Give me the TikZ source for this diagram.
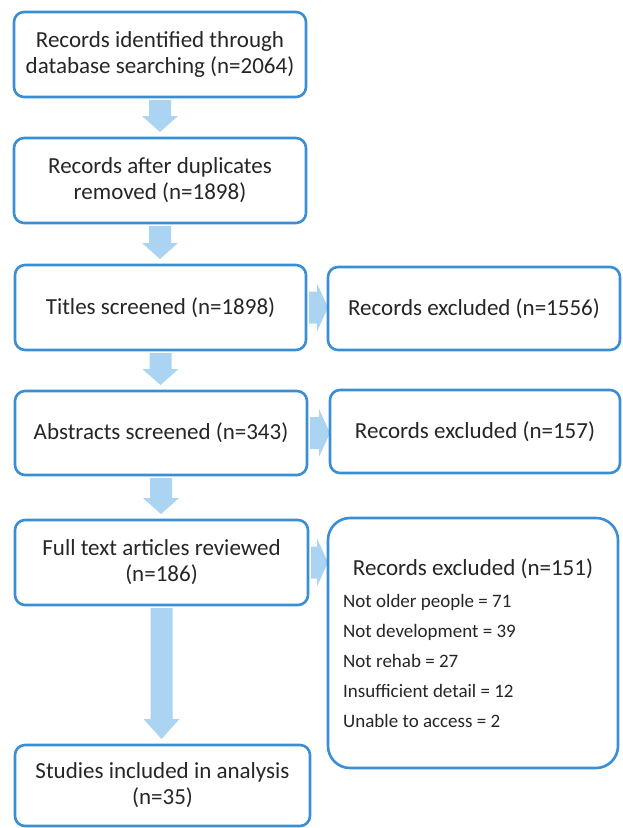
\documentclass[tikz,border=0pt]{standalone}
\usepackage{fontspec}
\setmainfont{Carlito}
\usetikzlibrary{calc,backgrounds}
\definecolor{bord}{RGB}{58,142,212}
\definecolor{arrc}{RGB}{170,212,242}
\definecolor{txt}{RGB}{38,38,38}
\newcommand{\blockdown}[4]{% from, to, name, head length (px)
  \coordinate (#3s) at ($(#1.south)+(0,3)$);
  \coordinate (#3t) at (#3s |- #2.north);
  \fill[blk] ($(#3s)+(-11,0)$) -- ($(#3s)+(11,0)$)
    -- ($(#3t)+(11,-6-#4)$) -- ($(#3t)+(18,-6-#4)$)
    -- ($(#3t)+(0,-6)$)
    -- ($(#3t)+(-18,-6-#4)$) -- ($(#3t)+(-11,-6-#4)$) -- cycle;
}
\newcommand{\blockright}[3]{% from, to, name
  \coordinate (#3s) at ($(#1.east)+(3,0)$);
  \coordinate (#3t) at (#3s -| #2.west);
  \fill[blk] ($(#3s)+(0,-16)$) -- ($(#3t)+(-11,-16)$)
    -- ($(#3t)+(-11,-24)$) -- (#3t) -- ($(#3t)+(-11,24)$)
    -- ($(#3t)+(-11,16)$) -- ($(#3s)+(0,16)$) -- cycle;
}
\begin{document}
\begin{tikzpicture}[x=1pt,y=-1pt,
  box/.style={draw=bord, line width=2.6pt, rounded corners=10pt, fill=white,
    inner sep=0pt, outer sep=0pt, align=center, text=txt,
    font=\fontsize{23}{26}\selectfont},
  bigbox/.style={box, rounded corners=22pt},
  blk/.style={fill=arrc},
  ttl/.style={anchor=base, inner sep=0pt, text=txt, font=\fontsize{23}{26}\selectfont},
  lst/.style={anchor=base west, inner sep=0pt, text=txt, font=\fontsize{19}{22}\selectfont}]
\useasboundingbox (0,0) rectangle (622,828);

\node[box, minimum width=292pt, minimum height=85pt] (b1) at (160,54.5)
  {Records identified through\\database searching (n=2064)};
\node[box, minimum width=292pt, minimum height=85pt] (b2) at (160,180.5)
  {Records after duplicates\\removed (n=1898)};
\node[box, minimum width=291pt, minimum height=85pt] (b3) at (160.5,307.5)
  {Titles screened (n=1898)};
\node[box, minimum width=292pt, minimum height=84pt] (b4) at (161,433)
  {Abstracts screened (n=343)};
\node[box, minimum width=293pt, minimum height=85pt] (b5) at (161.5,562.5)
  {Full text articles reviewed\\(n=186)};
\node[box, minimum width=295pt, minimum height=81pt] (b6) at (162.5,785.5)
  {Studies included in analysis\\(n=35)};

\node[box, minimum width=292pt, minimum height=83pt] (r1) at (474,308.5)
  {Records excluded (n=1556)};
\node[box, minimum width=290pt, minimum height=83pt] (r2) at (475,431.5)
  {Records excluded (n=157)};
\node[bigbox, minimum width=290pt, minimum height=250pt] (r3) at (473,643) {};
\node[ttl] (r3t) at (473,575) {Records excluded (n=151)};
\node[lst] (l1) at (343,607) {Not older people = 71};
\node[lst] (l2) at (343,637) {Not development = 39};
\node[lst] (l3) at (343,667) {Not rehab = 27};
\node[lst] (l4) at (343,697) {Insufficient detail = 12};
\node[lst] (l5) at (343,727) {Unable to access = 2};

\begin{pgfonlayer}{background}
\blockdown{b1}{b2}{a1}{16}
\blockdown{b2}{b3}{a2}{16}
\blockdown{b3}{b4}{a3}{16}
\blockdown{b4}{b5}{a4}{16}
\blockdown{b5}{b6}{a5}{20}
\blockright{b3}{r1}{c1}
\blockright{b4}{r2}{c2}
\blockright{b5}{r3}{c3}
\end{pgfonlayer}
\end{tikzpicture}
\end{document}
